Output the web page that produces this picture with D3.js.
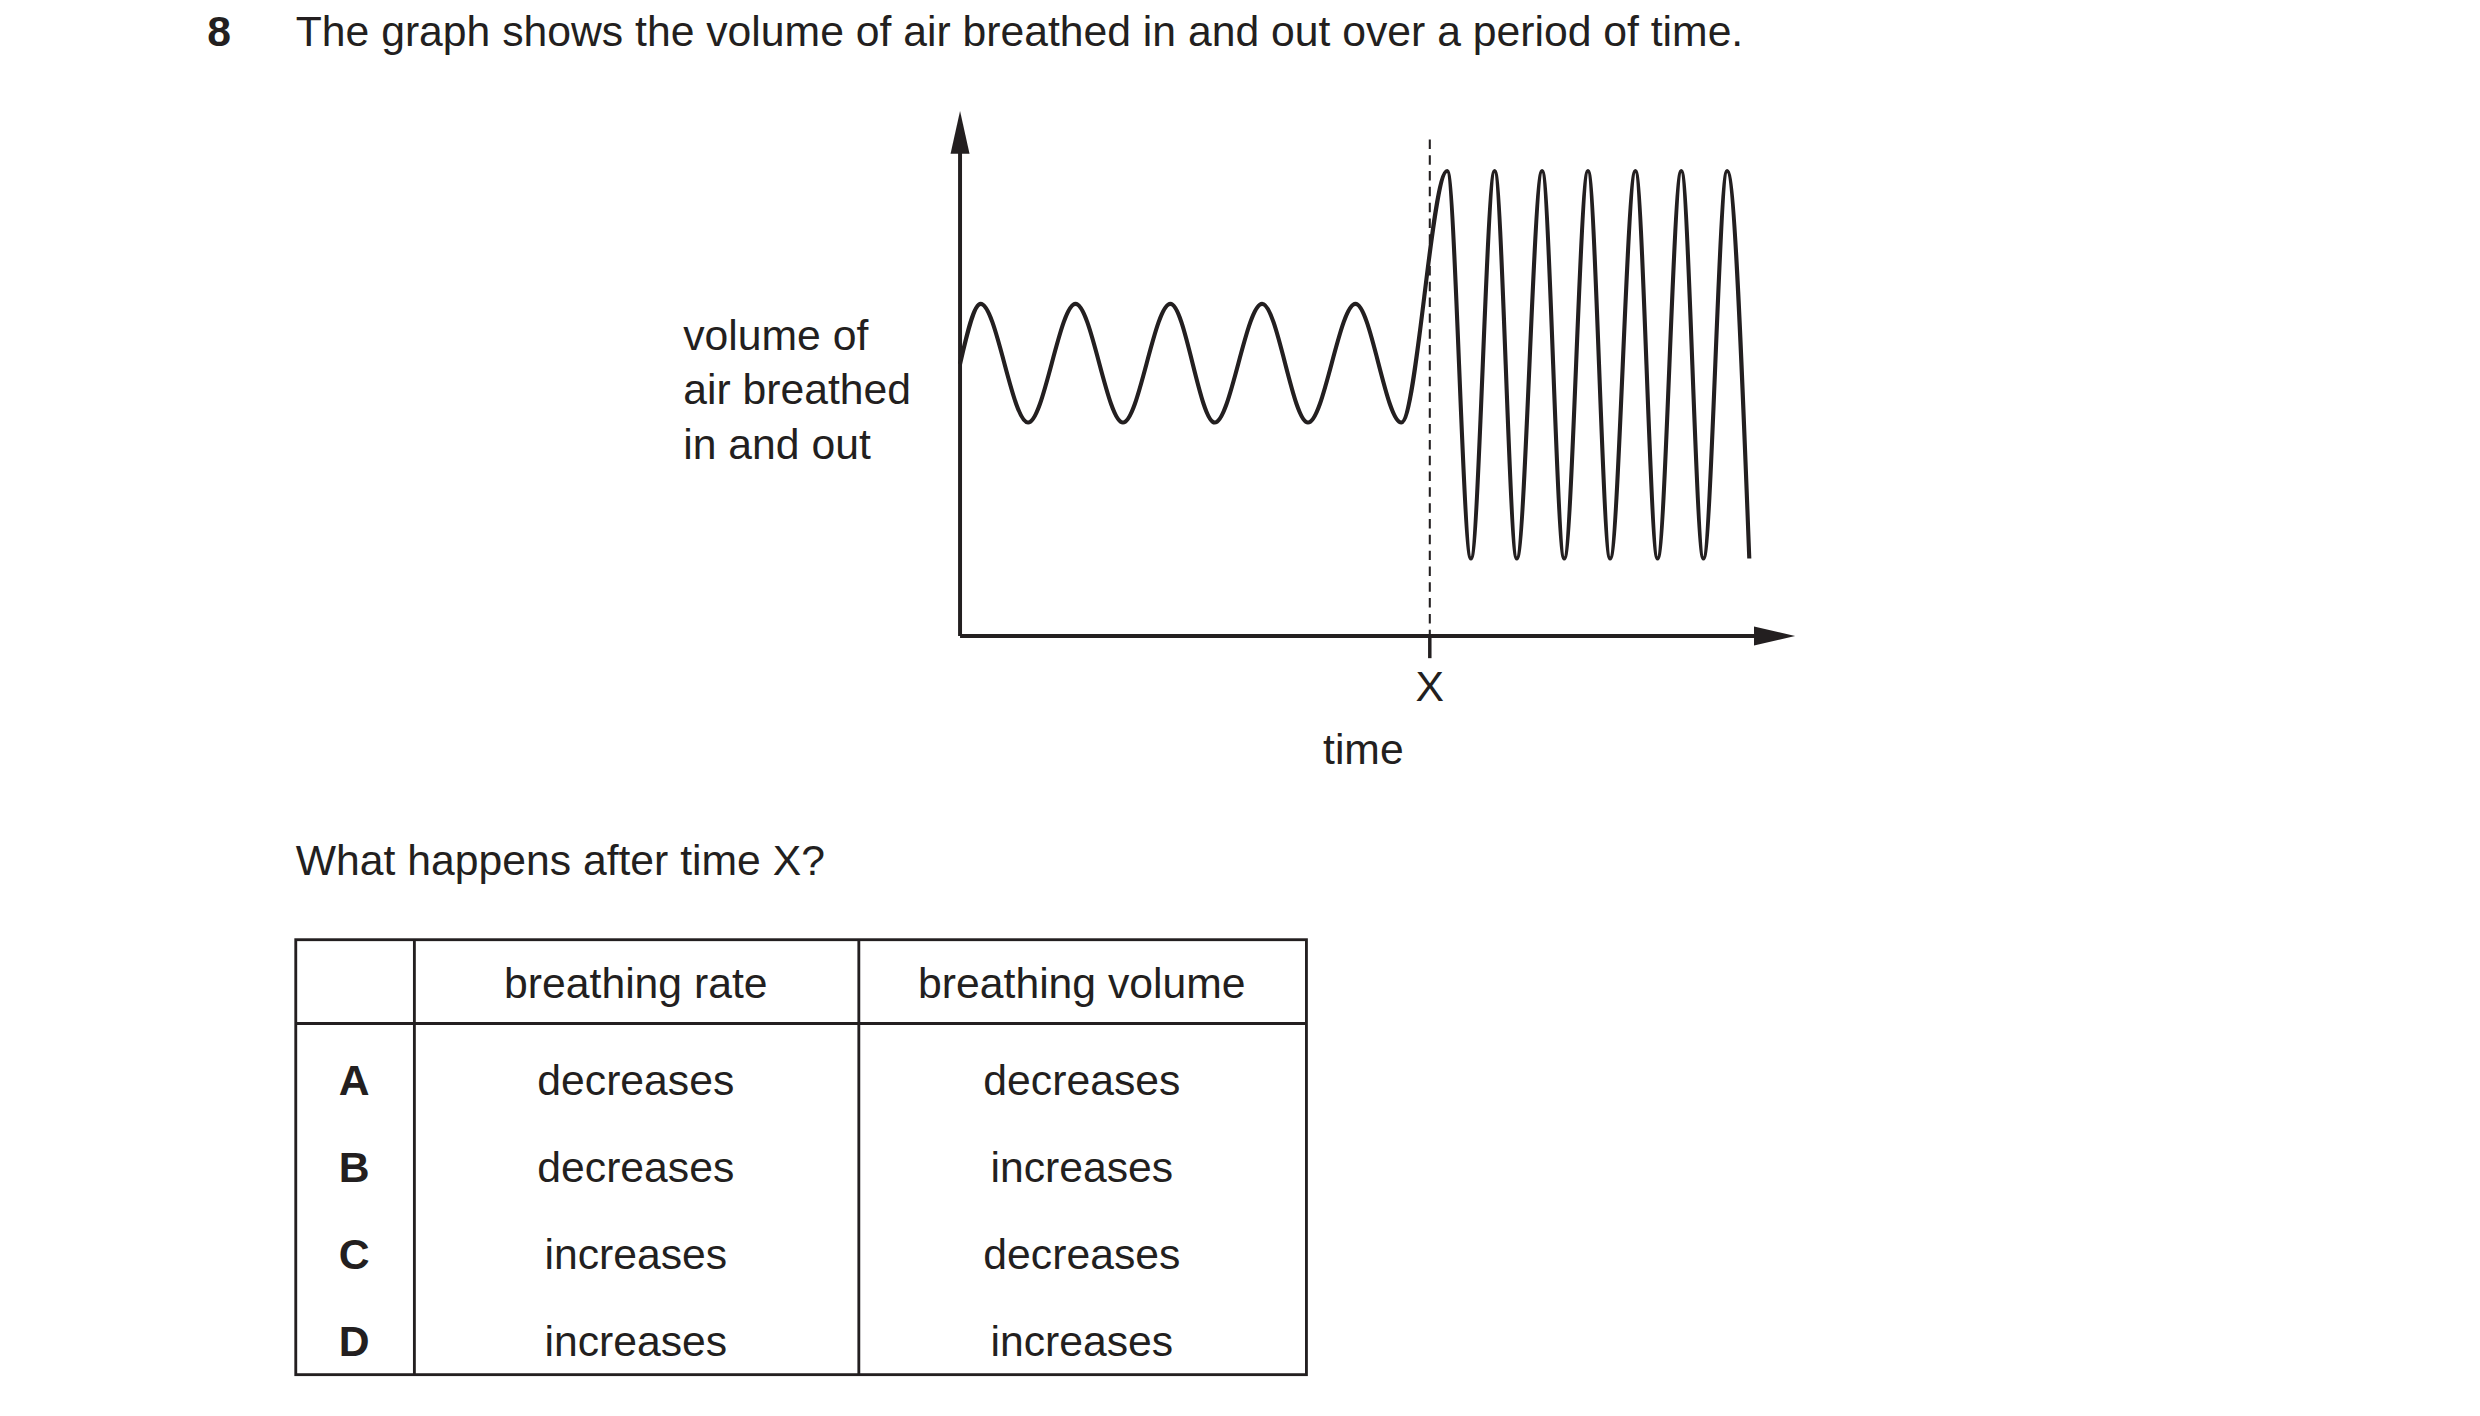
<!DOCTYPE html>
<html><head><meta charset="utf-8">
<script src="https://cdn.jsdelivr.net/npm/d3@7"></script>
<style>body{margin:0;background:#fff}text{font-family:"Liberation Sans",Arial,sans-serif;fill:#231f20}</style>
</head><body>
<svg id="c" width="2480" height="1416" viewBox="0 0 1568 895"></svg>
<script>
// extrema of the breathing trace (time units, volume units)
const slowTime = [0, 13, 43, 73, 103, 133, 161, 191, 220, 250, 279];
const slowVol  = [172, 210, 135, 210, 135, 210, 135, 210, 135, 210, 135];
const fastTime = [308, 323, 338, 352, 368, 382, 397, 411, 427, 441, 456, 470, 485, 499];
const fastVol  = [294, 49, 294, 49, 294, 49, 294, 49, 294, 49, 294, 49, 294, 49];
const timeX = 297;
const rows = ["A","B","C","D"];
const rate = ["decreases","decreases","increases","increases"];
const volume = ["decreases","increases","decreases","increases"];
const headers = ["breathing rate","breathing volume"];

const svg = d3.select("#c");
const ink = "#231f20", fs = 27;
const x = d3.scaleLinear().domain([0, 528]).range([607, 1135]);
const y = d3.scaleLinear().domain([0, 332]).range([402, 70]);

svg.append("text").attr("x",131).attr("y",29).attr("font-size",fs).attr("font-weight","bold").text("8");
svg.append("text").attr("x",187).attr("y",29).attr("font-size",fs).text("The graph shows the volume of air breathed in and out over a period of time.");

// axes
svg.append("line").attr("x1",x(0)).attr("x2",x(0)).attr("y1",y(0)).attr("y2",y(310)).attr("stroke",ink).attr("stroke-width",2.5);
svg.append("line").attr("x1",x(0)).attr("x2",x(510)).attr("y1",y(0)).attr("y2",y(0)).attr("stroke",ink).attr("stroke-width",2.5);
svg.append("path").attr("d",`M${x(0)},${y(332)} L${x(0)-6},${y(305)} L${x(0)+6},${y(305)}Z`).attr("fill",ink);
svg.append("path").attr("d",`M${x(528)},${y(0)} L${x(502)},${y(0)-6} L${x(502)},${y(0)+6}Z`).attr("fill",ink);

// dashed X line
svg.append("line").attr("x1",x(timeX)).attr("x2",x(timeX)).attr("y1",y(314)).attr("y2",y(0)).attr("stroke",ink).attr("stroke-width",1.3).attr("stroke-dasharray","6,4");
svg.append("line").attr("x1",x(timeX)).attr("x2",x(timeX)).attr("y1",y(0)).attr("y2",y(0)+14).attr("stroke",ink).attr("stroke-width",2.2);
svg.append("text").attr("x",x(timeX)).attr("y",443).attr("text-anchor","middle").attr("font-size",fs).text("X");
svg.append("text").attr("x",862).attr("y",483).attr("text-anchor","middle").attr("font-size",fs).text("time");
["volume of","air breathed","in and out"].forEach((t,i)=>svg.append("text").attr("x",432).attr("y",221+i*34.5).attr("font-size",fs).text(t));

// trace
const pts = slowTime.map((t,i)=>[t,slowVol[i]]).concat(fastTime.map((t,i)=>[t,fastVol[i]]));
svg.append("path").datum(pts).attr("fill","none").attr("stroke",ink).attr("stroke-width",2.6)
  .attr("d",d3.line().x(d=>x(d[0])).y(d=>y(d[1])).curve(d3.curveMonotoneX));

svg.append("text").attr("x",187).attr("y",553).attr("font-size",fs).text("What happens after time X?");

// table
const T = {l:187,r:826,t:594,h:647,b:869,c1:262,c2:543};
const g = svg.append("g").attr("stroke",ink).attr("stroke-width",1.8);
g.append("rect").attr("x",T.l).attr("y",T.t).attr("width",T.r-T.l).attr("height",T.b-T.t).attr("fill","none");
g.append("line").attr("x1",T.l).attr("x2",T.r).attr("y1",T.h).attr("y2",T.h);
[T.c1,T.c2].forEach(c=>g.append("line").attr("x1",c).attr("x2",c).attr("y1",T.t).attr("y2",T.b));
const cx=[224,402,684];
headers.forEach((h,i)=>svg.append("text").attr("x",cx[i+1]).attr("y",631).attr("text-anchor","middle").attr("font-size",fs).text(h));
rows.forEach((r,i)=>{
  const yy = 692+i*55;
  svg.append("text").attr("x",cx[0]).attr("y",yy).attr("text-anchor","middle").attr("font-size",fs).attr("font-weight","bold").text(r);
  svg.append("text").attr("x",cx[1]).attr("y",yy).attr("text-anchor","middle").attr("font-size",fs).text(rate[i]);
  svg.append("text").attr("x",cx[2]).attr("y",yy).attr("text-anchor","middle").attr("font-size",fs).text(volume[i]);
});
</script>
</body></html>
